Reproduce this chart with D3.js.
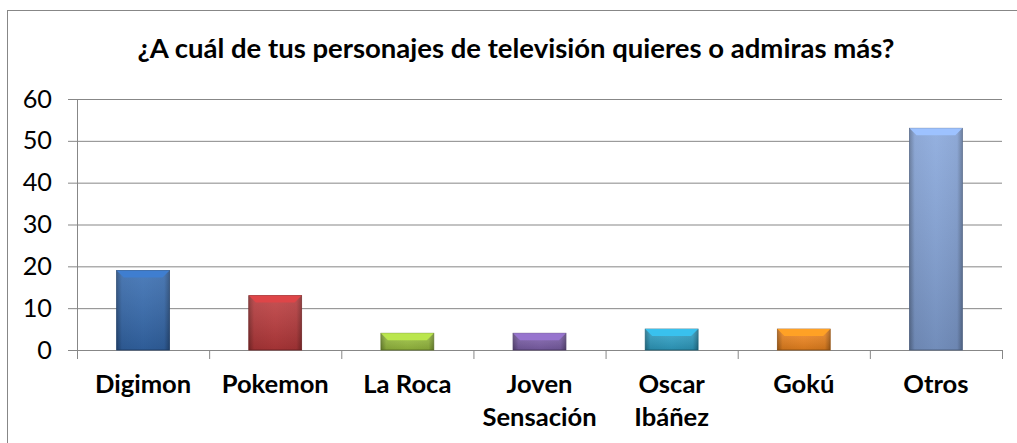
<!DOCTYPE html>
<html>
<head>
<meta charset="utf-8">
<script src="https://cdn.jsdelivr.net/npm/d3@7"></script>
<style>
  body { margin: 0; background: #fff; }
  text { font-family: Lato, "Open Sans", sans-serif; fill: #000; }
</style>
</head>
<body>
<div id="chart-area"></div>
<script>
const TITLE = "¿A cuál de tus personajes de televisión quieres o admiras más?"
const categories = ["Digimon", "Pokemon", "La Roca", "Joven Sensación", "Oscar Ibáñez", "Gokú", "Otros"]
const values = [19, 13, 4, 4, 5, 5, 53]
const yTicks = [0, 10, 20, 30, 40, 50, 60]
const barColors = ["#3366a8", "#b3383a", "#96ba3e", "#7a5ea6", "#2e9cc0", "#e8821e", "#7f9dd0"]

const W = 1017, H = 443
const MARGIN = { LEFT: 77, RIGHT: 15, TOP: 99, BOTTOM: 93 }
const WIDTH = W - MARGIN.LEFT - MARGIN.RIGHT
const HEIGHT = H - MARGIN.TOP - MARGIN.BOTTOM
const GRID = "#878787"

const svg = d3.select("#chart-area").append("svg")
  .attr("width", W)
  .attr("height", H)

// chart frame (continues past the right / bottom edge)
svg.append("rect")
  .attr("x", 7.5).attr("y", 10.5)
  .attr("width", W + 20).attr("height", H + 20)
  .attr("fill", "#fff")
  .attr("stroke", GRID)

const title = svg.append("text")
  .attr("x", 516).attr("y", 58)
  .attr("text-anchor", "middle")
  .attr("font-size", "22px")
  .attr("font-weight", "bold")
  .text(TITLE)

// the reference title spans about 757px, size the font to that
const titleSize = 22 * 757 / title.node().getComputedTextLength()
title.attr("font-size", titleSize + "px")

const defs = svg.append("defs")

const g = svg.append("g")
  .attr("transform", `translate(${MARGIN.LEFT}, ${MARGIN.TOP})`)

const x = d3.scaleBand()
  .domain(categories)
  .range([0, WIDTH])
  .paddingInner(0.6)
  .paddingOuter(0.3)

const xEdge = d3.scaleLinear()
  .domain([0, categories.length])
  .range([0, WIDTH])

const y = d3.scaleLinear()
  .domain([0, 60])
  .range([HEIGHT, 0])

// gridlines
g.append("g")
  .attr("class", "grid")
  .call(d3.axisLeft(y).tickValues(yTicks).tickSize(-WIDTH).tickFormat(""))
  .call(s => s.select(".domain").remove())
  .selectAll("line").attr("stroke", GRID)

// y axis
const yAxis = g.append("g")
  .call(d3.axisLeft(y).tickValues(yTicks).tickSize(9).tickPadding(16))
yAxis.selectAll("line, path").attr("stroke", GRID)
yAxis.selectAll("text")
  .attr("font-size", (titleSize * 0.92) + "px")
  .attr("font-family", "Lato, sans-serif")
  .attr("fill", "#000")

// x axis: boundary ticks
const xAxis = g.append("g")
  .attr("transform", `translate(0, ${HEIGHT})`)
  .call(d3.axisBottom(xEdge).tickValues(d3.range(categories.length + 1)).tickSize(9).tickFormat(""))
xAxis.selectAll("line, path").attr("stroke", GRID)

// category labels
const labels = g.append("g")
  .attr("transform", `translate(0, ${HEIGHT})`)
  .call(d3.axisBottom(x).tickSize(0).tickPadding(0))
labels.select(".domain").remove()
labels.selectAll("text")
  .attr("font-size", (titleSize * 0.93) + "px")
  .attr("font-weight", "bold")
  .attr("font-family", "Lato, sans-serif")
  .attr("fill", "#000")
  .attr("dy", null)
  .attr("y", 0)
  .each(function(d) {
    const t = d3.select(this)
    const words = d.split(" ")
    t.text(null)
    const lines = d.length > 8 ? words : [d]
    lines.forEach((w, i) => {
      t.append("tspan").attr("x", 0).attr("y", 43 + i * 33).text(w)
    })
  })

// bar gradients
barColors.forEach((c, i) => {
  const base = d3.color(c)
  const grad = defs.append("linearGradient")
    .attr("id", "bar" + i)
    .attr("x1", 0).attr("x2", 1).attr("y1", 0).attr("y2", 0)
  grad.append("stop").attr("offset", "0%").attr("stop-color", base.darker(0.9))
  grad.append("stop").attr("offset", "10%").attr("stop-color", base)
  grad.append("stop").attr("offset", "50%").attr("stop-color", base.brighter(0.15))
  grad.append("stop").attr("offset", "90%").attr("stop-color", base)
  grad.append("stop").attr("offset", "100%").attr("stop-color", base.darker(0.9))
  const vg = defs.append("linearGradient")
    .attr("id", "shade" + i)
    .attr("x1", 0).attr("x2", 0).attr("y1", 0).attr("y2", 1)
  vg.append("stop").attr("offset", "0%").attr("stop-color", "#fff").attr("stop-opacity", 0.12)
  vg.append("stop").attr("offset", "100%").attr("stop-color", "#000").attr("stop-opacity", 0.15)
})

const bars = g.selectAll(".bar")
  .data(values)
  .enter().append("g")
  .attr("class", "bar")

bars.append("rect")
  .attr("x", (d, i) => x(categories[i]))
  .attr("y", d => y(d))
  .attr("width", x.bandwidth())
  .attr("height", d => HEIGHT - y(d))
  .attr("fill", (d, i) => `url(#bar${i})`)
  .attr("stroke", (d, i) => d3.color(barColors[i]).darker(1.2))
  .attr("stroke-width", 0.8)

bars.append("rect")
  .attr("x", (d, i) => x(categories[i]))
  .attr("y", d => y(d))
  .attr("width", x.bandwidth())
  .attr("height", d => HEIGHT - y(d))
  .attr("fill", (d, i) => `url(#shade${i})`)

// top bevel
bars.append("path")
  .attr("d", (d, i) => {
    const x0 = x(categories[i]), x1 = x0 + x.bandwidth(), y0 = y(d), b = 7
    return `M${x0},${y0}L${x1},${y0}L${x1 - b},${y0 + b}L${x0 + b},${y0 + b}Z`
  })
  .attr("fill", (d, i) => d3.color(barColors[i]).brighter(0.6))
</script>
</body>
</html>
